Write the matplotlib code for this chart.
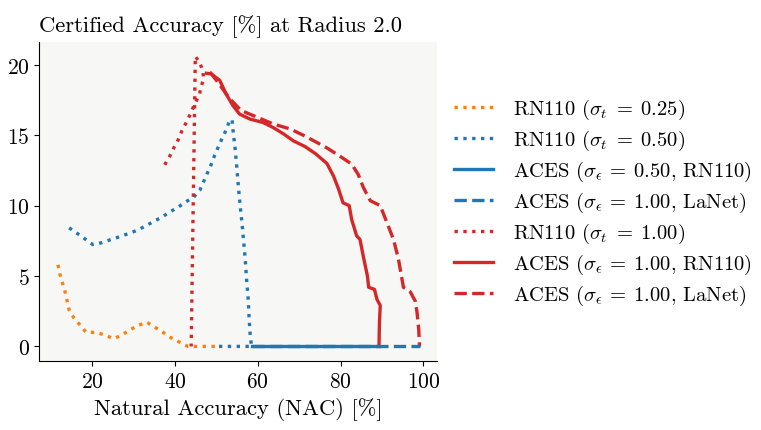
import matplotlib
matplotlib.use("Agg")
import matplotlib.pyplot as plt

plt.rcParams['font.family'] = ['cmr10', 'DejaVu Serif']
plt.rcParams['mathtext.fontset'] = 'cm'
plt.rcParams['axes.formatter.use_mathtext'] = True

# RN110 sigma_t = 0.25
rn025_x = [11.7, 12.2, 13.4, 14.4, 15.6, 17.1, 18.5, 20.9, 23.1, 25.2, 27.1, 29.2,
           31.2, 33.1, 35.1, 37.1, 39.1, 41.1, 43.1, 50.0]
rn025_y = [5.8, 5.1, 3.9, 2.6, 2.0, 1.5, 1.0, 1.0, 0.8, 0.55, 0.8, 1.2,
           1.5, 1.73, 1.37, 1.0, 0.6, 0.3, 0.0, 0.0]

# RN110 sigma_t = 0.50
rn050_x = [14.4, 16.3, 18.2, 20.1, 22.2, 24.3, 26.5, 28.6, 30.7, 32.8, 34.8, 36.8,
           38.7, 40.8, 42.5, 44.5, 46.0, 46.9, 47.8, 48.7, 49.6, 50.5, 51.4, 52.4,
           53.2, 53.8, 54.0, 54.5, 54.9, 55.3, 55.7, 56.2, 56.6, 57.0, 57.3, 57.7,
           57.9, 58.2, 58.5, 50.5]
rn050_y = [8.42, 8.04, 7.64, 7.24, 7.36, 7.57, 7.78, 8.0, 8.23, 8.54, 8.87, 9.18,
           9.54, 9.9, 10.25, 10.6, 11.1, 11.7, 12.3, 12.9, 13.6, 14.2, 14.8, 15.4,
           16.06, 16.1, 15.4, 14.1, 12.8, 11.4, 10.1, 8.7, 7.4, 6.05, 4.7, 3.3,
           2.0, 0.66, 0.0, 0.0]

# ACES sigma_e = 0.50 (RN110 and LaNet)
aces050_rn_x = [58.5, 89.3]
aces050_rn_y = [0.0, 0.0]
aces050_la_x = [58.5, 99.1]
aces050_la_y = [0.0, 0.0]

# RN110 sigma_t = 1.00
rn100_x = [37.5, 38.7, 39.7, 40.8, 41.7, 42.7, 43.7, 44.7, 45.8, 46.3, 46.9, 46.7,
           45.9, 44.9, 43.9]
rn100_y = [12.9, 13.5, 14.1, 14.7, 15.35, 15.9, 16.5, 17.2, 17.8, 18.4, 19.05, 19.6,
           20.2, 20.6, 0.0]

# ACES sigma_e = 1.00, RN110
aces100_rn_x = [47.6, 48.8, 50.8, 52.4, 54.0, 55.6, 58.1, 61.3, 63.7, 66.2, 68.6,
                71.4, 73.9, 76.7, 78.3, 79.5, 80.6, 82.1, 82.7, 83.9, 84.7, 85.5,
                86.5, 86.8, 88.2, 88.8, 89.6, 89.4, 89.3]
aces100_rn_y = [19.4, 19.35, 18.9, 17.9, 17.1, 16.5, 16.15, 15.9, 15.55, 15.1, 14.6,
                14.2, 13.7, 13.0, 12.1, 11.2, 10.2, 10.0, 9.0, 7.85, 7.6, 6.4,
                5.0, 4.2, 4.05, 3.35, 2.9, 1.7, 0.0]

# ACES sigma_e = 1.00, LaNet
aces100_la_x = [48.4, 50.0, 53.2, 56.0, 59.7, 63.7, 67.8, 71.0, 74.2, 76.7, 79.9,
                82.7, 84.3, 85.5, 87.2, 89.6, 91.2, 92.8, 94.0, 95.2, 96.8, 98.1,
                98.5, 98.9, 99.1]
aces100_la_y = [19.5, 18.9, 17.6, 16.75, 16.3, 15.8, 15.45, 15.0, 14.5, 14.1, 13.5,
                12.95, 12.2, 11.3, 10.35, 10.0, 8.8, 7.6, 6.2, 4.2, 3.9, 3.2,
                2.4, 1.2, 0.0]

orange = '#ff7f0e'
blue = '#1f77b4'
red = '#d62728'

fig = plt.figure(figsize=(7.61, 4.31), dpi=100)
ax = fig.add_axes([0.0517, 0.159, 0.523, 0.7405])
ax.set_facecolor('#f7f7f5')

lw = 2.4
ax.plot(rn025_x, rn025_y, ':', color=orange, lw=lw, label=r'RN110 ($\sigma_t\;=\;0.25$)')
ax.plot(rn050_x, rn050_y, ':', color=blue, lw=lw, label=r'RN110 ($\sigma_t\;=\;0.50$)')
ax.plot(aces050_la_x, aces050_la_y, '--', color=blue, lw=lw, zorder=2.1)
ax.plot(aces050_rn_x, aces050_rn_y, '-', color=blue, lw=lw, zorder=2.2,
        label=r'ACES ($\sigma_\epsilon\:=\:0.50$, RN110)')
ax.plot([], [], '--', color=blue, lw=lw,
        label=r'ACES ($\sigma_\epsilon\:=\:1.00$, LaNet)')
ax.plot(rn100_x, rn100_y, ':', color=red, lw=lw, label=r'RN110 ($\sigma_t\;=\;1.00$)')
ax.plot(aces100_rn_x, aces100_rn_y, '-', color=red, lw=lw,
        label=r'ACES ($\sigma_\epsilon\:=\:1.00$, RN110)')
ax.plot(aces100_la_x, aces100_la_y, '--', color=red, lw=lw,
        label=r'ACES ($\sigma_\epsilon\:=\:1.00$, LaNet)')

ax.set_xlim(7.2, 103.4)
ax.set_ylim(-1.07, 21.6)
ax.set_xticks([20, 40, 60, 80, 100])
ax.set_yticks([0, 5, 10, 15, 20])
ax.tick_params(labelsize=15.5)
for s in ['top', 'right']:
    ax.spines[s].set_visible(False)

ax.set_xlabel('Natural Accuracy (NAC) [%]', fontsize=16.3, labelpad=4.5)
ax.set_title('Certified Accuracy [%] at Radius 2.0', fontsize=16.3, loc='left', pad=8)

ax.legend(loc='center left', bbox_to_anchor=(0.995, 0.5), frameon=False,
          fontsize=14.8, handlelength=1.9, handletextpad=1.0, labelspacing=0.33)

fig.savefig('out.png', dpi=100)
